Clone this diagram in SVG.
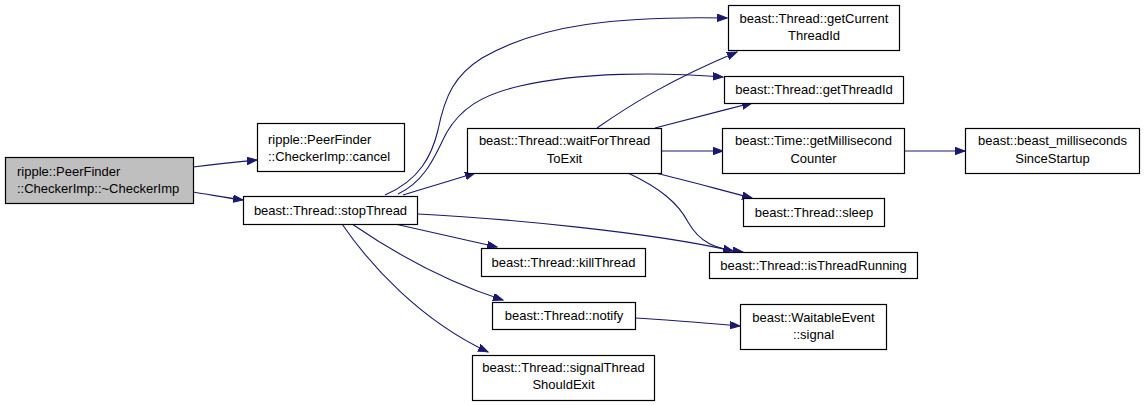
<svg xmlns="http://www.w3.org/2000/svg" width="1144" height="405" viewBox="0 0 1144 405">
<defs>
<style>
.n rect{fill:#ffffff;stroke:#000000;stroke-width:1.2}
.n.g rect{fill:#bfbfbf}
text{font-family:"Liberation Sans",Arial,Helvetica,sans-serif;font-size:13px;fill:#000000}
.c{text-anchor:middle}
.e path{fill:none;stroke:#191970;stroke-width:1.1;marker-end:url(#ah)}
</style>
<marker id="ah" markerUnits="userSpaceOnUse" markerWidth="11" markerHeight="8" refX="10" refY="3.75" orient="auto">
<path d="M0,0 L10,3.75 L0,7.5 z" fill="#191970" stroke="#191970" stroke-width="1"/>
</marker>
</defs>
<rect width="1144" height="405" fill="#ffffff"/>
<g class="e" id="edges">
<path d="M193,167 C215,164 235,162 257,160"/>
<path d="M193,192 C212,195 228,198 243,200"/>
<path d="M403,195 C425,188 450,181 475,173"/>
<path d="M385,195 C420,180 432,155 438,130 C445,95 455,75 482,58 C540,24 620,16 727,18"/>
<path d="M398,194 C428,180 437,150 447,132 C460,110 480,95 520,86 C580,72 660,72 723,77"/>
<path d="M418,214 C500,218 650,232 733,251"/>
<path d="M395,224 C430,232 465,240 497,247"/>
<path d="M352,224 C390,250 440,280 503,300"/>
<path d="M342,224 C370,265 420,320 488,352"/>
<path d="M597,128 C630,105 670,80 737,52"/>
<path d="M655,128 C690,119 720,111 752,103"/>
<path d="M661,151 L723,151"/>
<path d="M655,173 C690,181 720,190 752,198"/>
<path d="M628,173 C660,188 678,203 688,222 C700,243 715,249 743,252"/>
<path d="M904,151 L965,151"/>
<path d="M635,318 C670,320 705,323 740,326"/>
</g>
<g class="n g" id="node-checkerimp-dtor">
<rect x="5.5" y="157.5" width="188" height="46"/>
<text x="17" y="176">ripple::PeerFinder</text>
<text x="17" y="193">::CheckerImp::~CheckerImp</text>
</g>
<g class="n" id="node-cancel">
<rect x="257.5" y="123.5" width="147" height="48"/>
<text x="268" y="144">ripple::PeerFinder</text>
<text x="268" y="161">::CheckerImp::cancel</text>
</g>
<g class="n" id="node-stopThread">
<rect x="243.5" y="196.5" width="174" height="28"/>
<text class="c" x="330.5" y="215">beast::Thread::stopThread</text>
</g>
<g class="n" id="node-waitForThreadToExit">
<rect x="467.5" y="128.5" width="194" height="45"/>
<text class="c" x="564.5" y="145">beast::Thread::waitForThread</text>
<text class="c" x="564.5" y="163">ToExit</text>
</g>
<g class="n" id="node-getCurrentThreadId">
<rect x="728.5" y="5.5" width="171" height="45"/>
<text class="c" x="814" y="22.5">beast::Thread::getCurrent</text>
<text class="c" x="814" y="40">ThreadId</text>
</g>
<g class="n" id="node-getThreadId">
<rect x="724.5" y="76.5" width="179" height="27"/>
<text class="c" x="814" y="94">beast::Thread::getThreadId</text>
</g>
<g class="n" id="node-getMillisecondCounter">
<rect x="722.5" y="128.5" width="182" height="45"/>
<text class="c" x="813.5" y="145">beast::Time::getMillisecond</text>
<text class="c" x="813.5" y="163">Counter</text>
</g>
<g class="n" id="node-millisecondsSinceStartup">
<rect x="965.5" y="128.5" width="174" height="45"/>
<text class="c" x="1052.5" y="145">beast::beast_milliseconds</text>
<text class="c" x="1052.5" y="163">SinceStartup</text>
</g>
<g class="n" id="node-sleep">
<rect x="743.5" y="198.5" width="141" height="28"/>
<text class="c" x="814" y="217">beast::Thread::sleep</text>
</g>
<g class="n" id="node-isThreadRunning">
<rect x="709.5" y="252.5" width="208" height="26"/>
<text class="c" x="813.5" y="270">beast::Thread::isThreadRunning</text>
</g>
<g class="n" id="node-killThread">
<rect x="481.5" y="248.5" width="164" height="28"/>
<text class="c" x="563.5" y="267">beast::Thread::killThread</text>
</g>
<g class="n" id="node-notify">
<rect x="492.5" y="302.5" width="143" height="27"/>
<text class="c" x="564" y="320">beast::Thread::notify</text>
</g>
<g class="n" id="node-signalThreadShouldExit">
<rect x="472.5" y="355.5" width="182" height="45"/>
<text class="c" x="563.5" y="372">beast::Thread::signalThread</text>
<text class="c" x="563.5" y="389">ShouldExit</text>
</g>
<g class="n" id="node-waitableEventSignal">
<rect x="740.5" y="304.5" width="146" height="45"/>
<text class="c" x="813.5" y="321.5">beast::WaitableEvent</text>
<text class="c" x="813.5" y="338.5">::signal</text>
</g>
</svg>
